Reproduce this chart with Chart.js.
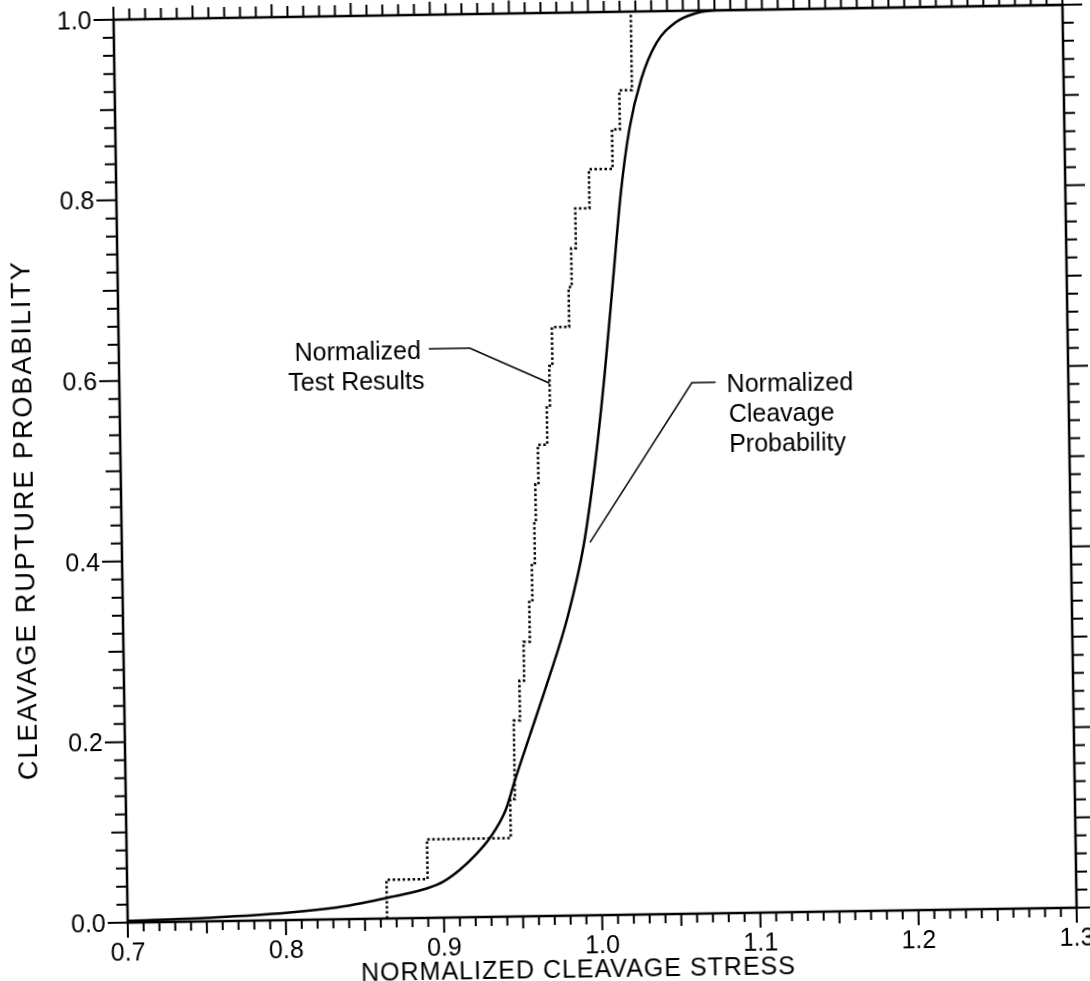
<!DOCTYPE html>
<html>
<head>
<meta charset="utf-8">
<script src="https://cdn.jsdelivr.net/npm/chart.js@4/dist/chart.umd.min.js"></script>
<style>
  html, body { margin: 0; padding: 0; background: #fff; overflow: hidden; }
  #wrap { width: 1090px; height: 981px; transform: rotate(-0.9deg); }
</style>
</head>
<body>
<div id="wrap"><canvas id="chart" width="1090" height="981"></canvas></div>
<script>
// Fitted cleavage probability curve (solid)
const cleavageStress = [0.700, 0.750, 0.800, 0.840, 0.870, 0.890, 0.900, 0.910, 0.920, 0.930, 0.940, 0.946, 0.956, 0.968, 0.981, 0.992, 1.000, 1.007, 1.013, 1.019, 1.025, 1.033, 1.043, 1.055, 1.068, 1.082, 1.100, 1.200, 1.300];
const cleavageProb = [0.002, 0.004, 0.008, 0.015, 0.025, 0.033, 0.040, 0.052, 0.068, 0.088, 0.118, 0.150, 0.200, 0.260, 0.330, 0.410, 0.500, 0.600, 0.700, 0.800, 0.870, 0.925, 0.965, 0.987, 0.997, 1.000, 1.000, 1.000, 1.000];

// Normalized test results (dotted staircase)
const testStress = [0.864, 0.864, 0.890, 0.943, 0.946, 0.946, 0.950, 0.953, 0.957, 0.959, 0.961, 0.962, 0.964, 0.970, 0.972, 0.974, 0.985, 0.987, 0.990, 0.999, 1.014, 1.019, 1.027, 1.027];
const testProb = [0.000, 0.043, 0.087, 0.130, 0.174, 0.217, 0.261, 0.304, 0.348, 0.391, 0.435, 0.478, 0.522, 0.565, 0.609, 0.652, 0.696, 0.739, 0.783, 0.826, 0.870, 0.913, 0.957, 1.000];

const xTicks = [0.7, 0.8, 0.9, 1.0, 1.1, 1.2, 1.3];
const yTicks = [0.0, 0.2, 0.4, 0.6, 0.8, 1.0];

const FONT = '"Liberation Sans", Arial, Helvetica, sans-serif';

const toPoints = (xs, ys) => xs.map((x, i) => ({ x: x, y: ys[i] }));

// frame, tick marks, tick labels, axis titles and callouts
const framePlugin = {
    id: 'frame',
    afterDatasetsDraw(chart) {
        const ctx = chart.ctx;
        const a = chart.chartArea;
        const xs = chart.scales.x;
        const ys = chart.scales.y;
        ctx.save();
        ctx.strokeStyle = '#000';
        ctx.lineWidth = 2.5;
        ctx.strokeRect(a.left, a.top, a.right - a.left, a.bottom - a.top);

        ctx.lineWidth = 2;
        ctx.beginPath();
        for (let i = 0; i <= 60; i++) {
            const px = xs.getPixelForValue(0.7 + i * 0.01);
            const up = i % 10 === 0 ? 20 : (i % 5 === 0 ? 15 : 11);
            const down = i % 10 === 0 ? 15 : (i % 5 === 0 ? 12 : 9);
            ctx.moveTo(px, a.bottom); ctx.lineTo(px, a.bottom + down);
            ctx.moveTo(px, a.top); ctx.lineTo(px, a.top - up);
        }
        for (let i = 0; i <= 50; i++) {
            const py = ys.getPixelForValue(i * 0.02);
            const len = i % 10 === 0 ? 20 : (i % 5 === 0 ? 15 : 11);
            ctx.moveTo(a.left, py); ctx.lineTo(a.left - len, py);
            ctx.moveTo(a.right, py); ctx.lineTo(a.right + len, py);
        }
        ctx.stroke();

        // tick labels
        ctx.fillStyle = '#000';
        ctx.font = '25px ' + FONT;
        ctx.textBaseline = 'middle';
        ctx.textAlign = 'center';
        xTicks.forEach(v => ctx.fillText(v.toFixed(1), xs.getPixelForValue(v), a.bottom + 31));
        ctx.textAlign = 'right';
        yTicks.forEach(v => ctx.fillText(v.toFixed(1), a.left - 22, ys.getPixelForValue(v) + 2));

        // axis titles
        ctx.font = '25px ' + FONT;
        ctx.textAlign = 'center';
        ctx.save();
        ctx.letterSpacing = '1px';
        ctx.fillText('NORMALIZED CLEAVAGE STRESS', 571, 971);
        ctx.restore();
        ctx.save();
        ctx.translate(26, 512);
        ctx.rotate(-Math.PI / 2);
        ctx.font = '27px ' + FONT;
        ctx.letterSpacing = '2px';
        ctx.fillText('CLEAVAGE RUPTURE PROBABILITY', 0, 0);
        ctx.restore();

        // callouts
        const P = (x, y) => [xs.getPixelForValue(x), ys.getPixelForValue(y)];
        ctx.font = '25px ' + FONT;
        ctx.textAlign = 'right';
        let p = P(0.891, 0.627); ctx.fillText('Normalized', p[0], p[1]);
        p = P(0.893, 0.594); ctx.fillText('Test Results', p[0], p[1]);
        ctx.textAlign = 'left';
        p = P(1.084, 0.585); ctx.fillText('Normalized', p[0], p[1]);
        p = P(1.085, 0.551); ctx.fillText('Cleavage', p[0], p[1]);
        p = P(1.085, 0.518); ctx.fillText('Probability', p[0], p[1]);

        ctx.lineWidth = 1.5;
        ctx.beginPath();
        let q = P(0.896, 0.630); ctx.moveTo(q[0], q[1]);
        q = P(0.922, 0.630); ctx.lineTo(q[0], q[1]);
        q = P(0.972, 0.590); ctx.lineTo(q[0], q[1]);
        q = P(1.077, 0.588); ctx.moveTo(q[0], q[1]);
        q = P(1.062, 0.588); ctx.lineTo(q[0], q[1]);
        q = P(0.996, 0.413); ctx.lineTo(q[0], q[1]);
        ctx.stroke();
        ctx.restore();
    }
};

new Chart(document.getElementById('chart'), {
    type: 'line',
    data: {
        datasets: [
            {
                label: 'Normalized Cleavage Probability',
                data: toPoints(cleavageStress, cleavageProb),
                borderColor: '#000',
                borderWidth: 2.5,
                pointRadius: 0,
                cubicInterpolationMode: 'monotone',
                fill: false,
            },
            {
                label: 'Normalized Test Results',
                data: toPoints(testStress, testProb),
                borderColor: '#000',
                borderWidth: 2.5,
                borderDash: [2.5, 2.5],
                pointRadius: 0,
                stepped: 'before',
                fill: false,
            }
        ]
    },
    options: {
        responsive: false,
        animation: false,
        devicePixelRatio: 1,
        layout: { padding: { top: 13, right: 20, left: 0, bottom: 0 } },
        plugins: {
            legend: { display: false },
            tooltip: { enabled: false },
        },
        scales: {
            x: {
                type: 'linear',
                min: 0.7,
                max: 1.3,
                afterFit: s => { s.height = 65; },
                grid: { display: false, drawTicks: false },
                border: { display: false },
                ticks: { display: false },
            },
            y: {
                type: 'linear',
                min: 0,
                max: 1,
                afterFit: s => { s.width = 121; },
                grid: { display: false, drawTicks: false },
                border: { display: false },
                ticks: { display: false },
            },
        },
    },
    plugins: [framePlugin],
});
</script>
</body>
</html>
